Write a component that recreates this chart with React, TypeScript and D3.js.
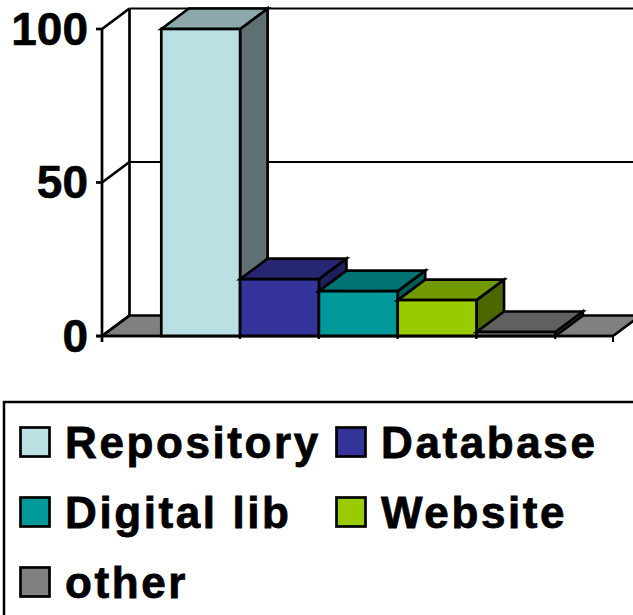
import React from "react";
import * as d3 from "d3";

const seriesNames = ["Repository", "Database", "Digital lib", "Website", "other"];
const seriesValues = [100, 18.5, 14.6, 11.7, 1.3];
const frontColors = ["#BBE0E3", "#333399", "#009999", "#99CC00", "#808080"];
const topColors = ["#8CA8AA", "#262673", "#007373", "#739900", "#606060"];
const sideColors = ["#5E7072", "#1F1F5C", "#005C5C", "#4D6600", "#4D4D4D"];
const yTicks = [0, 50, 100];
const legendColumn = [0, 1, 0, 1, 0];
const legendRow = [0, 0, 1, 1, 2];

const W = 633;
const H = 615;
const DX = 27.5;
const DY = -20.5;
const SW = 2.7;

const y = d3.scaleLinear().domain([0, 100]).range([336, 29]);
const x = d3.scaleBand().domain(seriesNames).range([161.3, 555.3]);
const axisLeft = 102;
const axisRight = 613;

const poly = (pts: [number, number][]) => d3.line()(pts) + "Z";

const fontFamily = "'Liberation Sans', Arial, sans-serif";

export default function App() {
  const y0 = y(0);
  return (
    <svg
      width={W}
      height={H}
      viewBox={`0 0 ${W} ${H}`}
      style={{ position: "absolute", left: 0, top: 0, background: "#fff" }}
    >
      {/* floor */}
      <path
        d={poly([[axisLeft, y0], [axisLeft + DX, y0 + DY], [axisRight + DX, y0 + DY], [axisRight, y0]])}
        fill="#808080"
        stroke="#000"
        strokeWidth={SW}
      />
      {/* walls and gridlines */}
      <line x1={axisLeft} x2={axisLeft} y1={y(100)} y2={y0 + 6} stroke="#000" strokeWidth={SW} />
      <line x1={axisLeft + DX} x2={axisLeft + DX} y1={y(100) + DY} y2={y0 + DY} stroke="#000" strokeWidth={SW} />
      {yTicks.map((t) => (
        <g key={t}>
          <line x1={axisLeft - 6} x2={axisLeft} y1={y(t)} y2={y(t)} stroke="#000" strokeWidth={SW} />
          <line x1={axisLeft} x2={axisLeft + DX} y1={y(t)} y2={y(t) + DY} stroke="#000" strokeWidth={SW} />
          {t > 0 && (
            <line x1={axisLeft + DX} x2={W + 5} y1={y(t) + DY} y2={y(t) + DY} stroke="#000" strokeWidth={2} />
          )}
          <text
            x={88}
            y={y(t) + 15.5}
            textAnchor="end"
            fontFamily={fontFamily}
            fontWeight="bold"
            fontSize={46}
            stroke="#000"
            strokeWidth={0.6}
          >
            {t}
          </text>
        </g>
      ))}
      {/* bars */}
      {seriesNames.map((name, i) => {
        const xa = x(name)!;
        const xb = xa + x.bandwidth();
        const top = y(seriesValues[i]);
        return (
          <g key={name} stroke="#000" strokeWidth={SW} strokeLinejoin="miter">
            <path d={poly([[xb, top], [xb + DX, top + DY], [xb + DX, y0 + DY], [xb, y0]])} fill={sideColors[i]} />
            <path d={poly([[xa, top], [xa + DX, top + DY], [xb + DX, top + DY], [xb, top]])} fill={topColors[i]} />
            <rect x={xa} y={top} width={x.bandwidth()} height={y0 - top} fill={frontColors[i]} />
          </g>
        );
      })}
      {/* category axis */}
      <line x1={axisLeft - 6} x2={axisRight} y1={y0} y2={y0} stroke="#000" strokeWidth={SW} />
      {[...seriesNames.slice(1).map((n) => x(n)!), x.range()[1], axisRight].map((t, i) => (
        <line key={i} x1={t} x2={t} y1={y0} y2={y0 + (t === axisRight ? 6 : 3)} stroke="#000" strokeWidth={2} />
      ))}
      {/* legend */}
      <rect x={4} y={402} width={W + 20} height={H} fill="#fff" stroke="#000" strokeWidth={2.5} />
      {seriesNames.map((name, i) => {
        const lx = legendColumn[i] === 0 ? 20.5 : 336.5;
        const ly = 427.5 + legendRow[i] * 70;
        return (
          <g key={name}>
            <rect x={lx} y={ly} width={29} height={29} fill={frontColors[i]} stroke="#000" strokeWidth={SW} />
            <text
              x={legendColumn[i] === 0 ? 65 : 381}
              y={ly + 30.5}
              fontFamily={fontFamily}
              fontWeight="bold"
              fontSize={44}
              letterSpacing={2.6}
              stroke="#000"
              strokeWidth={0.8}
            >
              {name}
            </text>
          </g>
        );
      })}
    </svg>
  );
}
